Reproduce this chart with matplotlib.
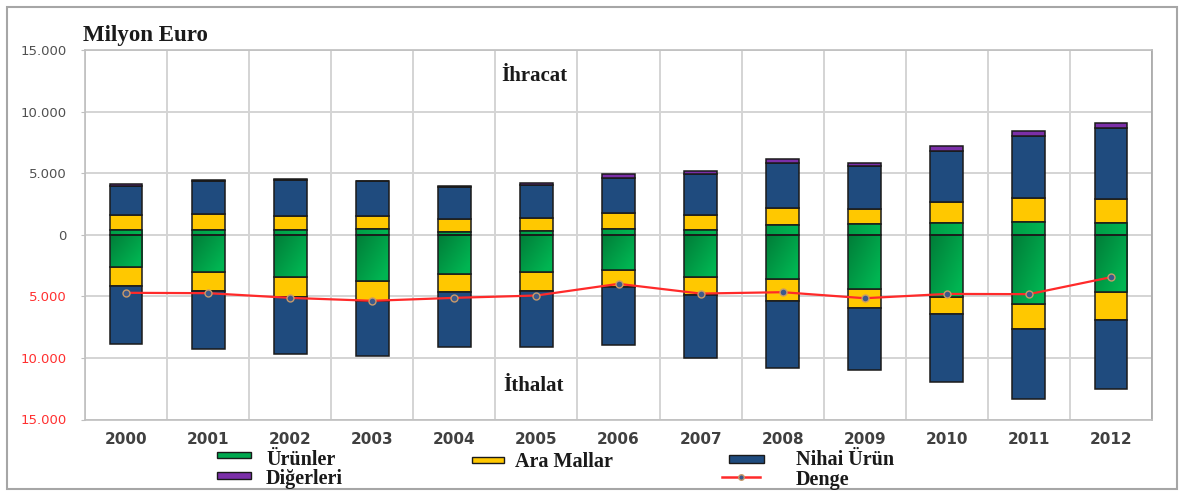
import numpy as np
import matplotlib
matplotlib.use("Agg")
import matplotlib.pyplot as plt
from matplotlib.colors import LinearSegmentedColormap
from matplotlib.patches import Rectangle
from matplotlib.lines import Line2D
from matplotlib.ticker import FuncFormatter

# ---------------- data (Milyon Euro) ----------------
years = ["2000", "2001", "2002", "2003", "2004", "2005", "2006",
         "2007", "2008", "2009", "2010", "2011", "2012"]

# exports (positive side)
exp_urunler = [400, 400, 400, 460, 240, 350, 520, 400, 790, 870, 950, 1090, 950]
exp_ara = [1230, 1310, 1170, 1110, 1040, 1010, 1300, 1230, 1440, 1220, 1740, 1950, 1980]
exp_nihai = [2390, 2690, 2890, 2780, 2610, 2720, 2850, 3320, 3610, 3480, 4160, 5030, 5740]
exp_diger = [100, 80, 100, 80, 110, 160, 280, 270, 330, 300, 350, 410, 430]

# imports (drawn on the negative side)
imp_urunler = [2620, 2970, 3380, 3780, 3140, 3030, 2870, 3380, 3540, 4400, 5030, 5570, 4650]
imp_ara = [1520, 1550, 1700, 1550, 1480, 1490, 1320, 1490, 1810, 1520, 1430, 2050, 2220]
imp_nihai = [4700, 4750, 4570, 4480, 4460, 4590, 4760, 5100, 5490, 5050, 5510, 5680, 5640]

denge = [-4700, -4730, -5110, -5350, -5110, -4920, -3970, -4760, -4650, -5140, -4790, -4810, -3430]

y_ticks = [15000, 10000, 5000, 0, -5000, -10000, -15000]

# ---------------- style ----------------
W, H = 1180, 491
C_GREEN = "#00A84F"
C_YELLOW = "#FFC800"
C_BLUE = "#1F4B7E"
C_PURPLE = "#7B2FA8"
C_RED = "#FF2A2A"
EDGE = "#1a1a1a"

fig = plt.figure(figsize=(W / 100, H / 100), dpi=100)
fig.patch.set_facecolor("white")

def fx(x):
    return x / W

def fy(y):
    return 1 - y / H

left, right, top, bottom = 85, 1152, 50.5, 419.5
ax = fig.add_axes([fx(left), fy(bottom), fx(right) - fx(left), (bottom - top) / H])

x = np.arange(len(years))
bw = 0.40

exp_u = np.array(exp_urunler)
exp_a = np.array(exp_ara)
exp_n = np.array(exp_nihai)
exp_d = np.array(exp_diger)
imp_u = np.array(imp_urunler)
imp_a = np.array(imp_ara)
imp_n = np.array(imp_nihai)

kw = dict(width=bw, edgecolor=EDGE, linewidth=1.1, zorder=3)
g_pos = ax.bar(x, exp_u, color=C_GREEN, **kw)
ax.bar(x, exp_a, bottom=exp_u, color=C_YELLOW, **kw)
ax.bar(x, exp_n, bottom=exp_u + exp_a, color=C_BLUE, **kw)
ax.bar(x, exp_d, bottom=exp_u + exp_a + exp_n, color=C_PURPLE, **kw)

g_neg = ax.bar(x, -imp_u, color=C_GREEN, **kw)
ax.bar(x, -imp_a, bottom=-imp_u, color=C_YELLOW, **kw)
ax.bar(x, -imp_n, bottom=-(imp_u + imp_a), color=C_BLUE, **kw)

# green gradient fill
gcmap = LinearSegmentedColormap.from_list("g", ["#007D38", "#00B552"])
nx, ny = 40, 40
gx, gy = np.meshgrid(np.linspace(0, 1, nx), np.linspace(0, 1, ny))
for bars, neg in ((g_pos, False), (g_neg, True)):
    for b in bars:
        x0, y0 = b.get_x(), b.get_y()
        w, h = b.get_width(), b.get_height()
        ylo, yhi = min(y0, y0 + h), max(y0, y0 + h)
        if neg:
            grad = np.clip((0.55 * gx + 0.45 * gy) * 1.15, 0, 1)
        else:
            grad = 0.6 + 0.4 * gx
        im = ax.imshow(grad, extent=(x0, x0 + w, ylo, yhi), origin="upper",
                       cmap=gcmap, vmin=0, vmax=1, aspect="auto",
                       interpolation="bilinear", zorder=3.05)
        im.set_clip_path(b)
        b.set_facecolor("none")
        b.set_zorder(3.1)

# balance line
ax.plot(x, denge, color=C_RED, linewidth=1.6, zorder=5,
        marker="o", markersize=5, markerfacecolor="#3C5A8C",
        markeredgecolor="#C89A6A", markeredgewidth=1.0)

# axes
ax.set_xlim(-0.5, len(years) - 0.5)
ax.set_ylim(-15000, 15000)
ax.set_yticks(y_ticks)
ax.yaxis.set_major_formatter(FuncFormatter(
    lambda v, p: "0" if v == 0 else f"{abs(int(v)):,}".replace(",", ".")))
ax.set_xticks(x)
ax.set_xticklabels(years)
ax.set_xticks(np.arange(len(years) + 1) - 0.5, minor=True)
ax.grid(False)
ax.grid(True, which="minor", axis="x", color="#D4D4D4", linewidth=1.4, zorder=0)
ax.grid(True, which="major", axis="y", color="#D4D4D4", linewidth=1.4, zorder=0)
ax.tick_params(axis="x", which="both", length=0, pad=9, labelsize=11,
               labelcolor="#404040")
ax.tick_params(axis="y", length=3, color="#BFBFBF", pad=10, labelsize=9.5,
               labelcolor="#505050")
for lab in ax.get_xticklabels():
    lab.set_fontweight("bold")
for lab, v in zip(ax.get_yticklabels(), y_ticks):
    if v < 0:
        lab.set_color("#FF3030")
for s in ax.spines.values():
    s.set_color("#BFBFBF")
    s.set_linewidth(1.2)
ax.spines["right"].set_color("#A6A6A6")
ax.set_axisbelow(True)

serif = ["Liberation Serif", "DejaVu Serif"]
ax.text(4.97, 12900, "İhracat", ha="center", va="center", fontsize=15,
        fontweight="bold", family=serif, color="#1a1a1a", zorder=6)
ax.text(4.97, -12300, "İthalat", ha="center", va="center", fontsize=15,
        fontweight="bold", family=serif, color="#1a1a1a", zorder=6)

fig.text(fx(83), fy(35), "Milyon Euro", ha="left", va="center", fontsize=16.5,
         fontweight="bold", family=serif, color="#1a1a1a")

# figure frame
fig.patches.append(Rectangle((fx(7), fy(489)), fx(1177) - fx(7), (489 - 7) / H,
                             transform=fig.transFigure, fill=False,
                             edgecolor="#A6A6A6", linewidth=1.5))

# legend (manual placement)
def leg_patch(x0, x1, y0, y1, color):
    fig.patches.append(Rectangle((fx(x0), fy(y1)), fx(x1) - fx(x0), (y1 - y0) / H,
                                 transform=fig.transFigure, facecolor=color,
                                 edgecolor=EDGE, linewidth=1.0))

def leg_text(x0, yc, s):
    fig.text(fx(x0), fy(yc), s, ha="left", va="center", fontsize=14.5,
             fontweight="bold", family=serif, color="#1a1a1a")

leg_patch(217, 251, 452, 458, C_GREEN)
leg_text(266, 460, "Ürünler")
leg_patch(217, 251, 472, 479, C_PURPLE)
leg_text(266, 479, "Diğerleri")
leg_patch(472, 504, 457, 463, C_YELLOW)
leg_text(515, 462, "Ara Mallar")
leg_patch(729, 764, 455, 463, C_BLUE)
leg_text(796, 460, "Nihai Ürün")
fig.lines.append(Line2D([fx(722), fx(760)], [fy(477), fy(477)],
                        transform=fig.transFigure, color=C_RED, linewidth=1.8))
fig.lines.append(Line2D([fx(741)], [fy(477)], transform=fig.transFigure,
                        color="#3C5A8C", marker="o", markersize=4,
                        markeredgecolor="#C89A6A", linestyle="none"))
leg_text(796, 480, "Denge")

fig.savefig("out.png", dpi=100, facecolor="white")
